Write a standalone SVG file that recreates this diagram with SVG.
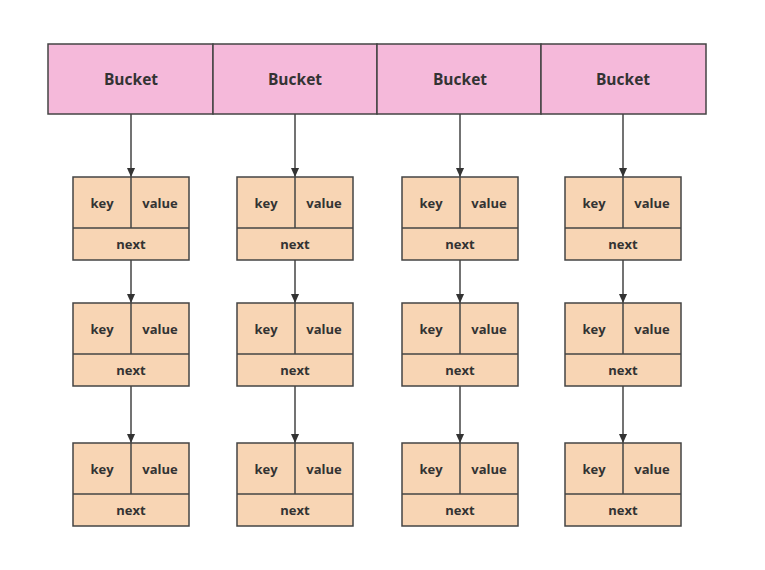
<svg xmlns="http://www.w3.org/2000/svg" width="765" height="570" viewBox="0 0 765 570">
<defs>
<style>
.b{fill:#f5b9da;stroke:#444;stroke-width:1.5}
.n{fill:#f8d5b4;stroke:#444;stroke-width:1.5}
.l{stroke:#444;stroke-width:1.5;fill:none}
text{font-family:"Open Sans","Noto Sans CJK SC",sans-serif;font-weight:bold;fill:#333;text-anchor:middle;dominant-baseline:central}
.bt{font-size:15.5px}
.t{font-size:13px}
</style>
<marker id="a" viewBox="0 0 10 10" refX="10" refY="5" markerWidth="11" markerHeight="9" markerUnits="userSpaceOnUse" orient="auto">
<path d="M0,0.5 L10,5 L0,9.5 z" fill="#333"/>
</marker>
<g id="node">
<rect class="n" x="0" y="0" width="116" height="83"/>
<line class="l" x1="0" y1="51" x2="116" y2="51"/>
<line class="l" x1="58" y1="0" x2="58" y2="51"/>
<text class="t" x="29" y="26">key</text>
<text class="t" x="87" y="26">value</text>
<text class="t" x="58" y="67">next</text>
</g>
</defs>
<rect width="765" height="570" fill="#fff"/>
<g id="connectors">
<line class="l" x1="131" y1="114" x2="131" y2="177" marker-end="url(#a)"/>
<line class="l" x1="295" y1="114" x2="295" y2="177" marker-end="url(#a)"/>
<line class="l" x1="460" y1="114" x2="460" y2="177" marker-end="url(#a)"/>
<line class="l" x1="623" y1="114" x2="623" y2="177" marker-end="url(#a)"/>
<line class="l" x1="131" y1="260" x2="131" y2="303" marker-end="url(#a)"/>
<line class="l" x1="295" y1="260" x2="295" y2="303" marker-end="url(#a)"/>
<line class="l" x1="460" y1="260" x2="460" y2="303" marker-end="url(#a)"/>
<line class="l" x1="623" y1="260" x2="623" y2="303" marker-end="url(#a)"/>
<line class="l" x1="131" y1="386" x2="131" y2="443" marker-end="url(#a)"/>
<line class="l" x1="295" y1="386" x2="295" y2="443" marker-end="url(#a)"/>
<line class="l" x1="460" y1="386" x2="460" y2="443" marker-end="url(#a)"/>
<line class="l" x1="623" y1="386" x2="623" y2="443" marker-end="url(#a)"/>
</g>
<g id="bucket1"><rect class="b" x="48" y="44" width="165" height="70"/><text class="bt" x="131" y="79">Bucket</text></g>
<g id="bucket2"><rect class="b" x="213" y="44" width="164" height="70"/><text class="bt" x="295" y="79">Bucket</text></g>
<g id="bucket3"><rect class="b" x="377" y="44" width="164" height="70"/><text class="bt" x="460" y="79">Bucket</text></g>
<g id="bucket4"><rect class="b" x="541" y="44" width="165" height="70"/><text class="bt" x="623" y="79">Bucket</text></g>
<g id="node1-1"><use href="#node" x="73" y="177"/></g>
<g id="node1-2"><use href="#node" x="73" y="303"/></g>
<g id="node1-3"><use href="#node" x="73" y="443"/></g>
<g id="node2-1"><use href="#node" x="237" y="177"/></g>
<g id="node2-2"><use href="#node" x="237" y="303"/></g>
<g id="node2-3"><use href="#node" x="237" y="443"/></g>
<g id="node3-1"><use href="#node" x="402" y="177"/></g>
<g id="node3-2"><use href="#node" x="402" y="303"/></g>
<g id="node3-3"><use href="#node" x="402" y="443"/></g>
<g id="node4-1"><use href="#node" x="565" y="177"/></g>
<g id="node4-2"><use href="#node" x="565" y="303"/></g>
<g id="node4-3"><use href="#node" x="565" y="443"/></g>
</svg>
